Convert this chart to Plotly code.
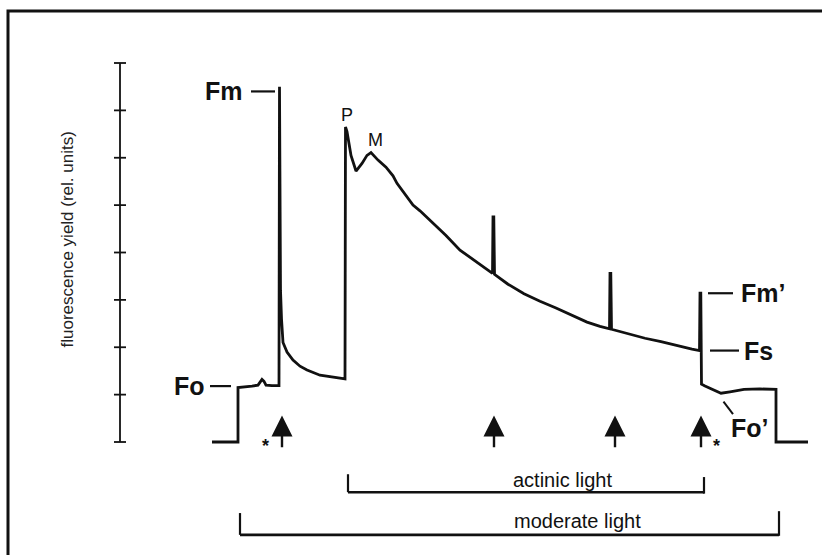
import plotly.graph_objects as go

# ---------------- data ----------------
# time axis (arbitrary units) and fluorescence yield (rel. units)
time = [212, 238, 238, 245, 252, 258, 260, 262, 264, 266, 272, 279,
        279.5, 280.5, 281.5, 283, 287, 293, 300, 307, 320, 337, 345,
        345.5, 347, 351, 356, 362, 367, 371, 378, 386, 393, 397, 405, 413,
        420, 428, 437, 446, 460, 472, 482, 492.5,
        493, 493.8, 494.5, 508, 524, 540, 556, 572, 587, 600, 609.5,
        610, 610.8, 611.5, 620, 629, 645, 661, 672, 682, 692, 699.5,
        700, 700.8, 701.5, 705, 712, 721, 730, 744, 760, 776,
        776, 808]
fluor = [0.0, 0.0, 1.15, 1.16, 1.18, 1.2, 1.26, 1.32, 1.28, 1.2, 1.19, 1.19,
         7.5, 3.2, 2.6, 2.1, 1.9, 1.73, 1.6, 1.52, 1.41, 1.36, 1.33,
         6.65, 6.55, 6.05, 5.72, 5.88, 6.05, 6.11, 5.95, 5.8, 5.62, 5.46, 5.22, 5.0,
         4.88, 4.72, 4.54, 4.36, 4.05, 3.87, 3.72, 3.56,
         4.75, 4.75, 3.54, 3.33, 3.13, 2.97, 2.83, 2.67, 2.53, 2.44, 2.39,
         3.56, 3.56, 2.38, 2.33, 2.27, 2.19, 2.12, 2.06, 2.0, 1.96, 1.93,
         3.14, 3.14, 1.22, 1.18, 1.12, 1.03, 1.06, 1.11, 1.12, 1.11,
         0.0, 0.0]

axis_ticks = [0, 1, 2, 3, 4, 5, 6, 7, 8]
axis_x = 120

flash_times = [282, 494, 615, 701]          # saturating pulses (arrows)
star_times = [265, 716]
actinic_on, actinic_off = 348, 704
moderate_on, moderate_off = 240, 779

# labelled levels
Fm_level, Fo_level, Fmp_level, Fs_level = 7.4, 1.18, 3.14, 1.93

FONT = "Liberation Sans, Arial, sans-serif"
BLACK = "#111111"

# y scale: bottom tick (0) at 442 px, top tick (8) at 63 px
px_per_unit = (442 - 63) / 8.0
y_max = 442 / px_per_unit
y_min = -(555 - 442) / px_per_unit

fig = go.Figure()

# fluorescence trace
fig.add_trace(go.Scatter(x=time, y=fluor, mode="lines",
                         line=dict(color=BLACK, width=2.8, shape="linear"),
                         hoverinfo="skip", showlegend=False))

# hand-drawn style y axis with crossing ticks
ax_x, ax_y = [axis_x, axis_x, None], [axis_ticks[0], axis_ticks[-1], None]
for t in axis_ticks:
    ax_x += [axis_x - 6, axis_x + 6, None]
    ax_y += [t, t, None]
fig.add_trace(go.Scatter(x=ax_x, y=ax_y, mode="lines",
                         line=dict(color=BLACK, width=1.8),
                         hoverinfo="skip", showlegend=False))

shapes = []
def seg(x0, y0, x1, y1, w=2.2):
    shapes.append(dict(type="line", xref="x", yref="y", x0=x0, y0=y0, x1=x1, y1=y1,
                       line=dict(color=BLACK, width=w)))

# label dashes
seg(251, Fm_level, 275, Fm_level)
seg(210, Fo_level, 231, Fo_level)
seg(708, Fmp_level, 733, Fmp_level)
seg(710, Fs_level, 739, Fs_level)
seg(723.5, 0.85, 733, 0.59, 2.0)

# light brackets
seg(actinic_on, -0.68, actinic_on, -1.06)
seg(actinic_on, -1.06, actinic_off, -1.06, 2.6)
seg(actinic_off, -0.74, actinic_off, -1.09)
seg(moderate_on, -1.50, moderate_on, -1.96)
seg(moderate_on, -1.96, moderate_off, -1.96, 2.6)
seg(moderate_off, -1.46, moderate_off, -1.98)

# outer frame
shapes.append(dict(type="rect", xref="paper", yref="paper",
                   x0=8 / 822, y0=-0.05, x1=1.05, y1=1 - 11 / 555,
                   line=dict(color=BLACK, width=3)))

annotations = []
def label(text, x, y, size, xanchor="center", bold=False):
    annotations.append(dict(text=f"<b>{text}</b>" if bold else text, x=x, y=y,
                            xref="x", yref="y", showarrow=False,
                            xanchor=xanchor, yanchor="middle",
                            font=dict(family=FONT, size=size, color=BLACK)))

label("Fm", 245, Fm_level, 25, "right", True)
label("Fo", 207, Fo_level, 25, "right", True)
label("Fm’", 739, Fmp_level, 25, "left", True)
label("Fs", 742, Fs_level, 25, "left", True)
label("Fo’", 729, 0.3, 25, "left", True)
label("P", 347, 6.9, 18)
label("M", 375, 6.37, 18)
for st in star_times:
    label("*", st, -0.08, 18, "center", True)
label("actinic light", 562, -0.80, 20)
label("moderate light", 577, -1.67, 20)

# flash arrows
for ft in flash_times:
    annotations.append(dict(x=ft, y=0.56, ax=ft, ay=-0.14, xref="x", yref="y",
                            axref="x", ayref="y", text="", showarrow=True,
                            arrowhead=2, arrowsize=1.75, arrowwidth=2.4,
                            arrowcolor=BLACK, standoff=0))

# y-axis title
annotations.append(dict(text="fluorescence yield (rel. units)", x=55 / 822, y=1 - 240 / 555,
                        xref="paper", yref="paper", showarrow=False, textangle=-90,
                        font=dict(family=FONT, size=17, color="#222222")))

fig.update_layout(
    width=822, height=555,
    margin=dict(l=0, r=0, t=0, b=0),
    paper_bgcolor="white", plot_bgcolor="white",
    xaxis=dict(range=[0, 822], visible=False, fixedrange=True),
    yaxis=dict(range=[y_min, y_max], visible=False, fixedrange=True),
    shapes=shapes, annotations=annotations,
    showlegend=False,
)

fig.write_html("out.html")
